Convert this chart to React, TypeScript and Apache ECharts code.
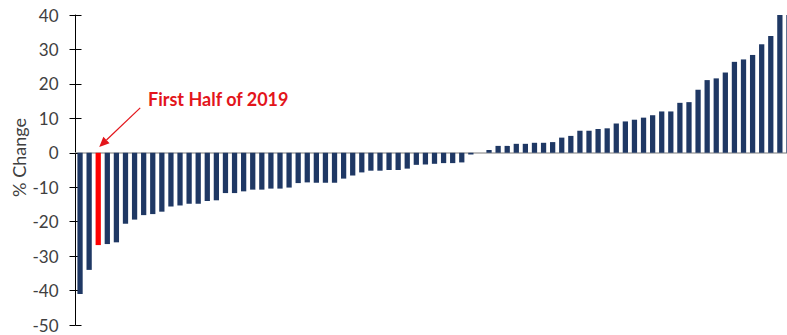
import React, { useEffect, useRef } from "react";
import * as echarts from "echarts";

const values: number[] = [
  -41, -34, -26.8, -26.5, -26, -20.6, -19.4, -18.1, -17.8, -17.1,
  -15.6, -15.3, -14.8, -14.8, -14.0, -13.8, -11.7, -11.7, -11.2, -10.7,
  -10.7, -10.4, -10.4, -10.1, -8.8, -8.6, -8.7, -8.7, -8.7, -7.5,
  -6.6, -5.7, -5.2, -5.2, -5.0, -5.0, -4.6, -3.5, -3.4, -3.2,
  -3.0, -3.0, -2.8, -0.5, 0, 0.8, 2.0, 2.0, 2.6, 2.6,
  2.9, 2.9, 3.1, 4.4, 4.9, 6.4, 6.4, 6.9, 7.1, 8.5,
  9.1, 9.6, 10.2, 10.9, 12.0, 12.0, 14.5, 14.7, 18.3, 21.1,
  21.6, 23.3, 26.4, 27.1, 28.4, 31.5, 33.9, 40.3, 42,
];
const categories: string[] = values.map((_, i) => `P${i + 1}`);
const highlightIndex = 2;
const annotationText = "First Half of 2019";
const yAxisName = "% Change";

const NAVY = "#1f3864";
const RED = "#ff0000";
const LABEL_RED = "#e3151b";

export default function App() {
  const ref = useRef<HTMLDivElement>(null);
  useEffect(() => {
    if (!ref.current) return;
    const chart = echarts.init(ref.current, null, { renderer: "svg" });
    const yCommon = {
      type: "value" as const,
      min: -50,
      max: 40,
      interval: 10,
      splitLine: { show: false },
    };
    chart.setOption({
      animation: false,
      grid: { left: 75.5, top: 15, width: 718, height: 310 },
      xAxis: {
        type: "category",
        data: categories,
        axisLine: { onZero: true, lineStyle: { color: "#a6a6a6", width: 1.5 } },
        axisTick: { show: false },
        axisLabel: { show: false },
      },
      yAxis: [
        {
          ...yCommon,
          axisLine: { show: true, onZero: false, lineStyle: { color: "#000", width: 1 } },
          axisTick: { show: true, length: 6, lineStyle: { color: "#000" } },
          axisLabel: {
            margin: 17,
            fontFamily: "Lato",
            fontSize: 17,
            color: "#404040",
          },
        },
        {
          ...yCommon,
          position: "left",
          axisLine: { show: false },
          axisTick: { show: true, inside: true, length: 6, lineStyle: { color: "#000" } },
          axisLabel: { show: false },
        },
      ],
      series: [
        {
          type: "bar",
          data: values.map((v, i) =>
            i === highlightIndex ? { value: v, itemStyle: { color: RED } } : v
          ),
          itemStyle: { color: NAVY },
          barCategoryGap: "42%",
        },
      ],
    });
    const tip = chart.convertToPixel({ seriesIndex: 0 }, [highlightIndex, 1.7]) as number[];
    const tx = tip[0] + 1;
    const ty = tip[1];
    const sx = tx + 41;
    const sy = ty - 39;
    const ang = Math.atan2(ty - sy, tx - sx);
    const hl = 10;
    const hw = 4.5;
    const bx = tx - hl * Math.cos(ang);
    const by = ty - hl * Math.sin(ang);
    const px = -Math.sin(ang) * hw;
    const py = Math.cos(ang) * hw;
    chart.setOption({
      graphic: [
        {
          type: "line",
          shape: { x1: sx, y1: sy, x2: bx, y2: by },
          style: { stroke: LABEL_RED, lineWidth: 1.2 },
        },
        {
          type: "polygon",
          shape: { points: [[tx, ty], [bx + px, by + py], [bx - px, by - py]] },
          style: { fill: LABEL_RED },
        },
        {
          type: "text",
          x: 148,
          y: 99,
          style: {
            text: annotationText,
            fill: LABEL_RED,
            font: "bold 18px Lato",
            textVerticalAlign: "middle",
          },
        },
        {
          type: "text",
          x: 19,
          y: 157.5,
          rotation: Math.PI / 2,
          style: {
            text: yAxisName,
            fill: "#404040",
            font: "18px Lato",
            textAlign: "center",
            textVerticalAlign: "middle",
          },
        },
      ],
    });
    return () => chart.dispose();
  }, []);
  return (
    <div style={{ position: "fixed", left: 0, top: 0, width: 787, height: 335, overflow: "hidden", background: "#fff" }}>
      <div ref={ref} style={{ width: 800, height: 335 }} />
    </div>
  );
}
